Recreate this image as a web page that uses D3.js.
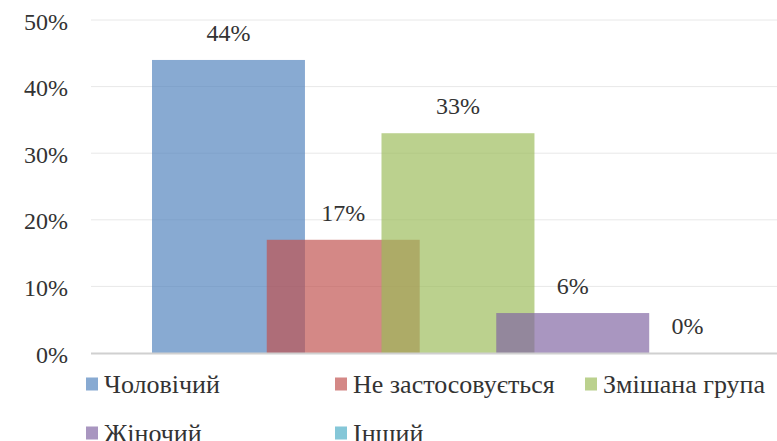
<!DOCTYPE html>
<html><head><meta charset="utf-8">
<script src="https://cdn.jsdelivr.net/npm/d3@7/dist/d3.min.js"></script>
</head><body style="margin:0;background:#fff">
<svg id="c" width="777" height="441" style="display:block"></svg>
<script>
const series = ["Чоловічий","Не застосовується","Змішана група","Жіночий","Інший"];
const values = [44,17,33,6,0];
const colors = ["#4F81BD","#C0504D","#9BBB59","#8064A2","#4BACC6"];
const yTicks = [0,10,20,30,40,50];

const FONT = "Liberation Serif";
const TXT = "#333";
const svg = d3.select("#c");
const y = d3.scaleLinear().domain([0,50]).range([353,20]);
const x = d3.scaleBand().domain(series).range([152, 152+5*114.75]).paddingInner(0).paddingOuter(0);
const barW = x.bandwidth()*1.333;
const op = 0.68;

// gridlines
svg.append("g").selectAll("line").data(yTicks.filter(d=>d>0)).join("line")
  .attr("x1",91).attr("x2",777).attr("y1",d=>y(d)).attr("y2",d=>y(d))
  .attr("stroke","#e8e8e8").attr("stroke-width",1);

// y axis labels
const yAxis = d3.axisLeft(y).tickValues(yTicks).tickFormat(d=>d+"%").tickSize(0).tickPadding(0);
const ga = svg.append("g").attr("transform","translate(68,0)").call(yAxis);
ga.attr("font-family",null).attr("font-size",null);
ga.select(".domain").remove();
ga.selectAll("text").attr("dy",null).attr("y",9)
  .style("font-family",FONT).style("font-size","24px").style("fill",TXT);

// bars
svg.append("g").selectAll("rect").data(series).join("rect")
  .attr("x",d=>x(d)).attr("width",barW)
  .attr("y",(d,i)=>y(values[i])).attr("height",(d,i)=>y(0)-y(values[i]))
  .attr("fill",(d,i)=>colors[i]).attr("fill-opacity",op);

// baseline
svg.append("line").attr("x1",91).attr("x2",777).attr("y1",y(0)+0.5).attr("y2",y(0)+0.5)
  .attr("stroke","#d0d0d0").attr("stroke-width",2);

// value labels
svg.append("g").selectAll("text").data(series).join("text")
  .attr("x",d=>x(d)+barW/2).attr("y",(d,i)=>y(values[i])-19)
  .attr("text-anchor","middle")
  .style("font-family",FONT).style("font-size","24px").style("fill",TXT)
  .text((d,i)=>values[i]+"%");

// legend
const legPos = [[86,384],[335,384],[585,384],[86,433],[335,433]];
const lg = svg.append("g").selectAll("g").data(series).join("g")
  .attr("transform",(d,i)=>`translate(${legPos[i][0]},${legPos[i][1]})`);
lg.append("rect").attr("x",0).attr("y",-6.5).attr("width",12).attr("height",13)
  .attr("fill",(d,i)=>colors[i]).attr("fill-opacity",op);
lg.append("text").attr("x",18).attr("y",8.5)
  .style("font-family",FONT).style("font-size","26px").style("fill",TXT)
  .text(d=>d);
</script>
</body></html>
